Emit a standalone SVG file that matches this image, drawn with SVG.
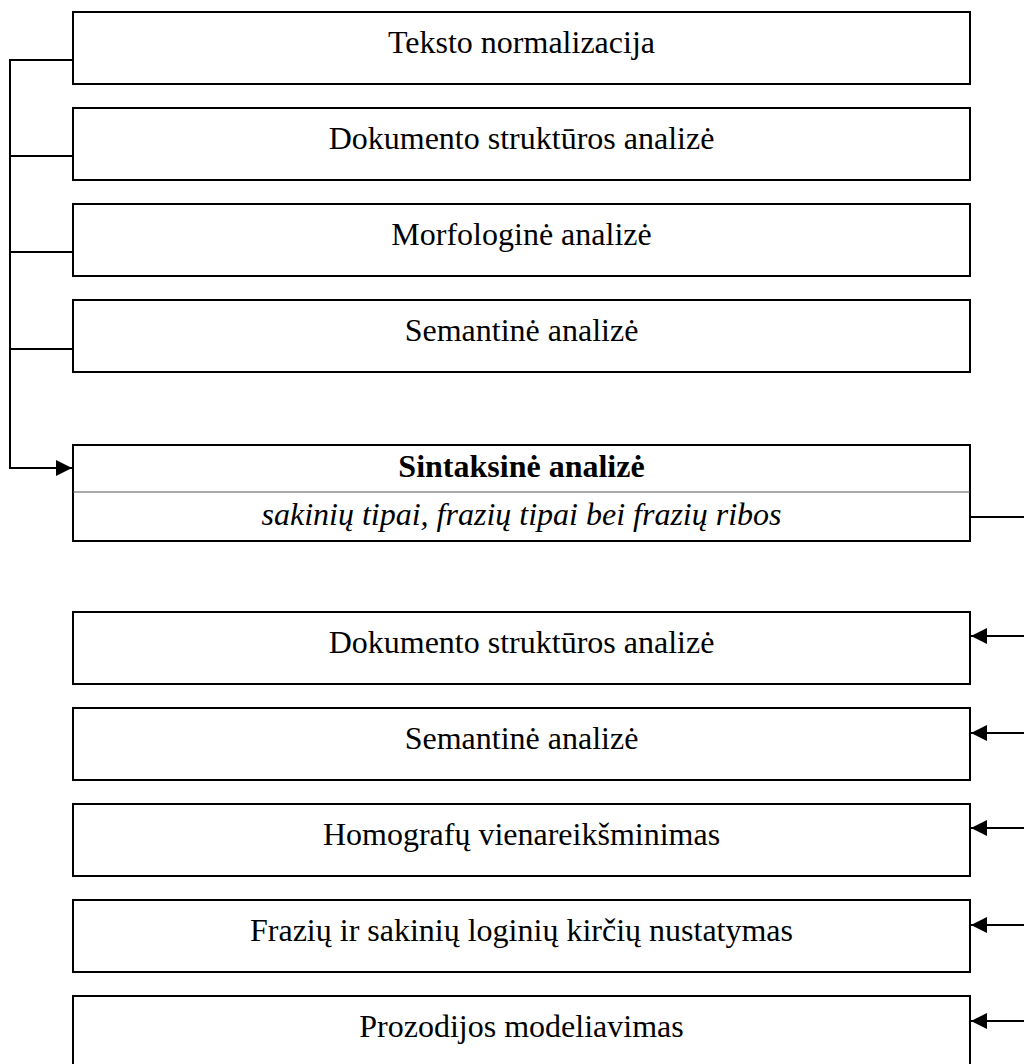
<svg xmlns="http://www.w3.org/2000/svg" width="1024" height="1064" viewBox="0 0 1024 1064">
  <style>
    .box { fill: #fff; stroke: #000; stroke-width: 2; }
    .lbl { font-family: "Liberation Serif", "Times New Roman", serif; font-size: 32px; fill: #000; text-anchor: middle; }
    .bold { font-weight: bold; }
    .ital { font-style: italic; }
    .wire { fill: none; stroke: #000; stroke-width: 2; }
    .divider { stroke: #555; stroke-width: 1.2; }
  </style>
  <defs>
    <marker id="head" markerUnits="userSpaceOnUse" markerWidth="18" markerHeight="18" viewBox="0 0 18 18" refX="16" refY="9" orient="auto">
      <path d="M0,1 L16,9 L0,17 Z" fill="#000"/>
    </marker>
  </defs>
  <rect width="1024" height="1064" fill="#fff"/>

  <!-- connectors -->
  <g id="connectors">
    <!-- collector on the left feeding the syntax stage -->
    <path class="wire" d="M73,60 H10 V468 H72" marker-end="url(#head)"/>
    <path class="wire" d="M10,156 H73"/>
    <path class="wire" d="M10,252 H73"/>
    <path class="wire" d="M10,349 H73"/>
    <!-- output of the syntax stage leaving to the right -->
    <path class="wire" d="M970,517 H1024"/>
    <!-- inputs returning to the lower stages -->
    <path class="wire" d="M1024,636 H971" marker-end="url(#head)"/>
    <path class="wire" d="M1024,733 H971" marker-end="url(#head)"/>
    <path class="wire" d="M1024,828 H971" marker-end="url(#head)"/>
    <path class="wire" d="M1024,925 H971" marker-end="url(#head)"/>
    <path class="wire" d="M1024,1021 H971" marker-end="url(#head)"/>
  </g>

  <!-- upper stages -->
  <g id="n-teksto">
    <rect class="box" x="73" y="12" width="897" height="72"/>
    <text class="lbl" x="521.5" y="53">Teksto normalizacija</text>
  </g>
  <g id="n-dokumento1">
    <rect class="box" x="73" y="108" width="897" height="72"/>
    <text class="lbl" x="521.5" y="149">Dokumento struktūros analizė</text>
  </g>
  <g id="n-morfologine">
    <rect class="box" x="73" y="204" width="897" height="72"/>
    <text class="lbl" x="521.5" y="245">Morfologinė analizė</text>
  </g>
  <g id="n-semantine1">
    <rect class="box" x="73" y="300" width="897" height="72"/>
    <text class="lbl" x="521.5" y="341">Semantinė analizė</text>
  </g>

  <!-- syntax stage -->
  <g id="n-sintaksine">
    <rect class="box" x="73" y="445" width="897" height="96"/>
    <line class="divider" x1="73" y1="492" x2="970" y2="492"/>
    <text class="lbl bold" x="521.5" y="477">Sintaksinė analizė</text>
    <text class="lbl ital" x="521.5" y="525">sakinių tipai, frazių tipai bei frazių ribos</text>
  </g>

  <!-- lower stages -->
  <g id="n-dokumento2">
    <rect class="box" x="73" y="612" width="897" height="72"/>
    <text class="lbl" x="521.5" y="653">Dokumento struktūros analizė</text>
  </g>
  <g id="n-semantine2">
    <rect class="box" x="73" y="708" width="897" height="72"/>
    <text class="lbl" x="521.5" y="749">Semantinė analizė</text>
  </g>
  <g id="n-homografu">
    <rect class="box" x="73" y="804" width="897" height="72"/>
    <text class="lbl" x="521.5" y="845">Homografų vienareikšminimas</text>
  </g>
  <g id="n-kirciu">
    <rect class="box" x="73" y="900" width="897" height="72"/>
    <text class="lbl" x="521.5" y="941">Frazių ir sakinių loginių kirčių nustatymas</text>
  </g>
  <g id="n-prozodijos">
    <rect class="box" x="73" y="996" width="897" height="72"/>
    <text class="lbl" x="521.5" y="1037">Prozodijos modeliavimas</text>
  </g>
</svg>
